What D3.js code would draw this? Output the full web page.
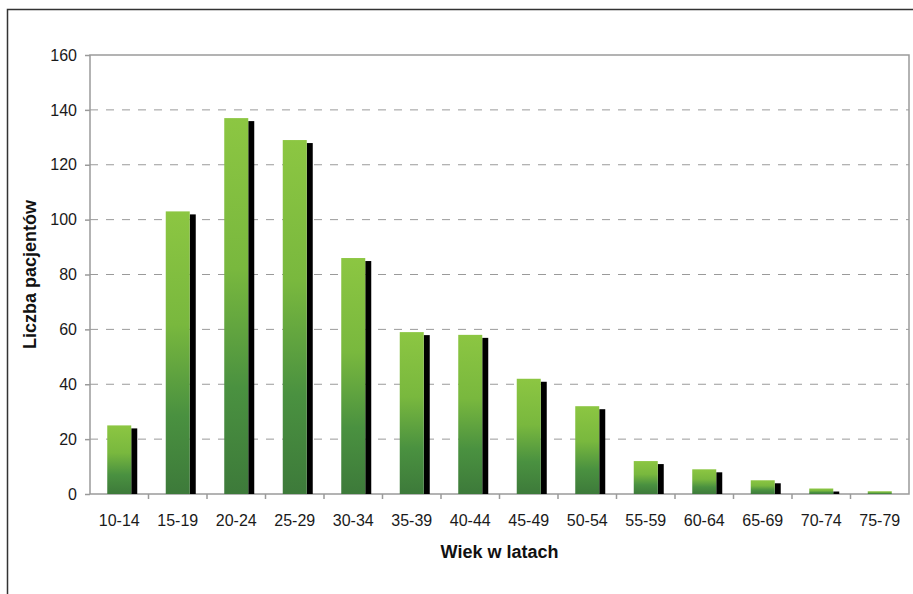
<!DOCTYPE html>
<html>
<head>
<meta charset="utf-8">
<script src="https://cdn.jsdelivr.net/npm/d3@7"></script>
<style>
  body { margin: 0; background: #fff; }
  svg { font-family: Arial, "Liberation Sans", sans-serif; }
</style>
</head>
<body>
<div id="chart"></div>
<script>
// Data
const ageGroups = ["10-14", "15-19", "20-24", "25-29", "30-34", "35-39", "40-44",
  "45-49", "50-54", "55-59", "60-64", "65-69", "70-74", "75-79"];
const patients = [25, 103, 137, 129, 86, 59, 58, 42, 32, 12, 9, 5, 2, 1];
const yTicks = [0, 20, 40, 60, 80, 100, 120, 140, 160];

// Chart dimensions
const W = 913, H = 594;
const margin = {top: 55, right: 4, bottom: 100, left: 90};
const width = W - margin.left - margin.right;
const height = H - margin.top - margin.bottom;

const svg = d3.select("#chart").append("svg")
  .attr("width", W)
  .attr("height", H);

// outer frame
svg.append("rect")
  .attr("x", 7.5).attr("y", 9.5)
  .attr("width", W).attr("height", H)
  .attr("fill", "none")
  .attr("stroke", "#333")
  .attr("stroke-width", 1.5);

const defs = svg.append("defs");
const grad = defs.append("linearGradient")
  .attr("id", "barGrad")
  .attr("x1", 0).attr("y1", 0).attr("x2", 0).attr("y2", 1);
grad.append("stop").attr("offset", "0%").attr("stop-color", "#8cc642");
grad.append("stop").attr("offset", "40%").attr("stop-color", "#79b83e");
grad.append("stop").attr("offset", "72%").attr("stop-color", "#4a9140");
grad.append("stop").attr("offset", "100%").attr("stop-color", "#3d7a3a");

const g = svg.append("g")
  .attr("transform", "translate(" + margin.left + "," + margin.top + ")");

// Scales
const x = d3.scaleBand().domain(ageGroups).range([0, width]).padding(0);
const y = d3.scaleLinear().domain([0, 160]).range([height, 0]);

// dashed gridlines
g.selectAll(".grid")
  .data(yTicks.filter(d => d > 0 && d < 160))
  .enter().append("line")
  .attr("class", "grid")
  .attr("x1", 0).attr("x2", width)
  .attr("y1", d => y(d)).attr("y2", d => y(d))
  .attr("stroke", "#9a9a9a")
  .attr("stroke-dasharray", "8,8");

// plot frame
g.append("rect")
  .attr("x", 0).attr("y", 0)
  .attr("width", width).attr("height", height)
  .attr("fill", "none")
  .attr("stroke", "#9a9a9a")
  .attr("stroke-width", 1.5);

const barW = 24, shadowW = 6, shadowDrop = 3;

// black shadow bars
g.selectAll(".shadow")
  .data(ageGroups)
  .enter().append("rect")
  .attr("class", "shadow")
  .attr("x", d => x(d) + x.bandwidth() / 2 + barW / 2)
  .attr("y", (d, i) => y(patients[i]) + shadowDrop)
  .attr("width", shadowW)
  .attr("height", (d, i) => Math.max(0, height - y(patients[i]) - shadowDrop))
  .attr("fill", "#000");

// green bars
g.selectAll(".bar")
  .data(ageGroups)
  .enter().append("rect")
  .attr("class", "bar")
  .attr("x", d => x(d) + x.bandwidth() / 2 - barW / 2)
  .attr("y", (d, i) => y(patients[i]))
  .attr("width", barW)
  .attr("height", (d, i) => height - y(patients[i]))
  .attr("fill", "url(#barGrad)");

// Axes
const yAxis = g.append("g")
  .call(d3.axisLeft(y).tickValues(yTicks).tickSize(5).tickPadding(8));
const xAxis = g.append("g")
  .attr("transform", "translate(0," + height + ")")
  .call(d3.axisBottom(x).tickSize(0).tickPadding(21));

[yAxis, xAxis].forEach(ax => {
  ax.select(".domain").remove();
  ax.selectAll("line").attr("stroke", "#9a9a9a").attr("stroke-width", 1.5);
  ax.selectAll("text").attr("font-size", 16).attr("fill", "#1a1a1a")
    .attr("font-family", "Arial, 'Liberation Sans', sans-serif");
});

// x ticks between categories
g.selectAll(".xtick")
  .data(ageGroups.slice(1))
  .enter().append("line")
  .attr("class", "xtick")
  .attr("x1", d => x(d)).attr("x2", d => x(d))
  .attr("y1", height).attr("y2", height + 5)
  .attr("stroke", "#9a9a9a")
  .attr("stroke-width", 1.5);

// axis titles
svg.append("text")
  .attr("x", margin.left + width / 2)
  .attr("y", 558)
  .attr("text-anchor", "middle")
  .attr("font-size", 18)
  .attr("font-weight", "bold")
  .attr("fill", "#111")
  .text("Wiek w latach");

svg.append("text")
  .attr("transform", "translate(36," + (margin.top + height / 2) + ") rotate(-90)")
  .attr("text-anchor", "middle")
  .attr("font-size", 18)
  .attr("font-weight", "bold")
  .attr("fill", "#111")
  .text("Liczba pacjentów");
</script>
</body>
</html>
